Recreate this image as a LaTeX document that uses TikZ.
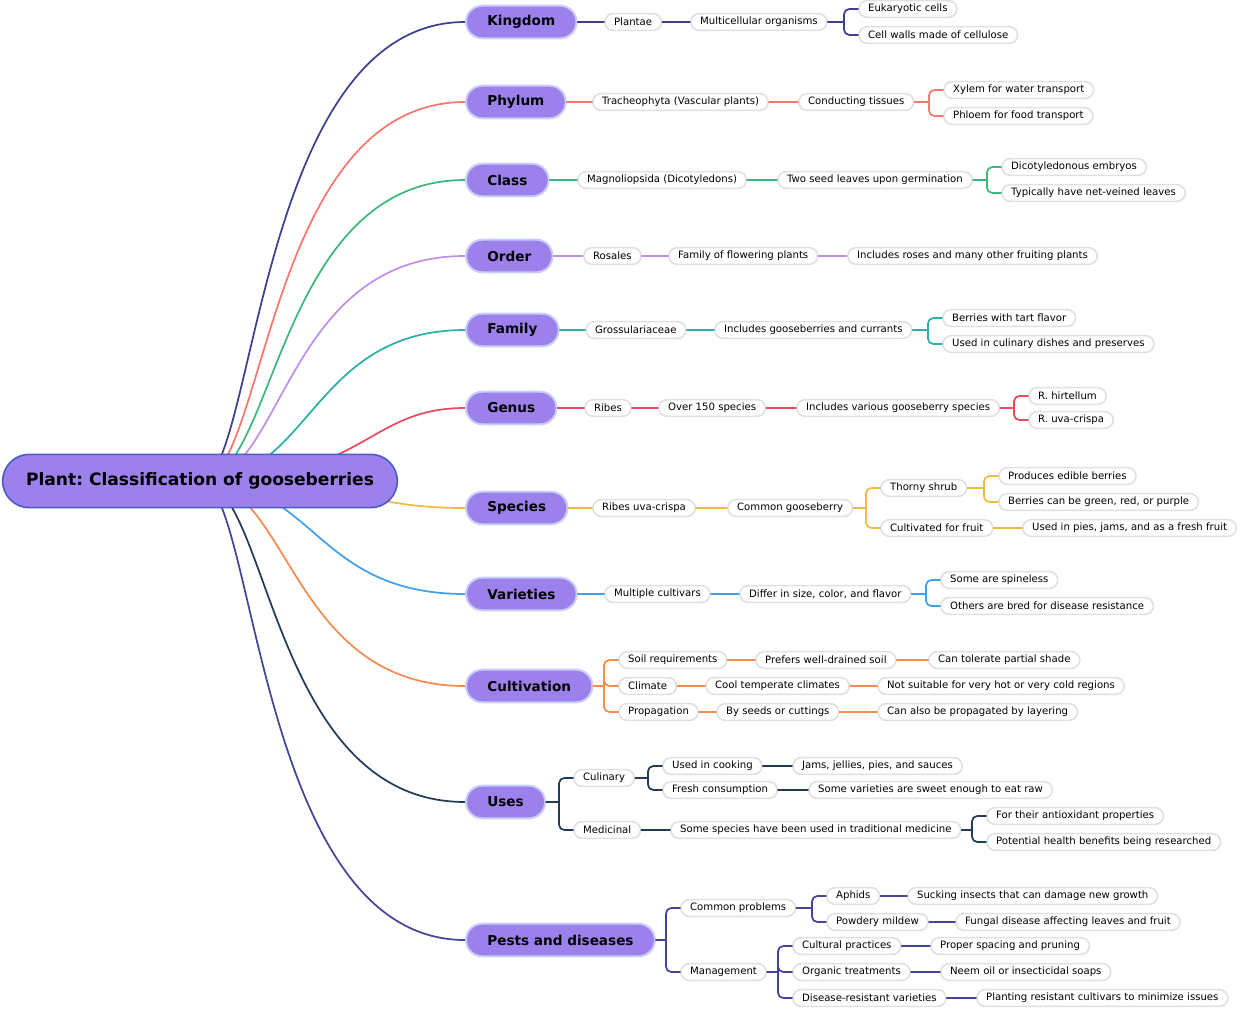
\documentclass[tikz,border=0pt]{standalone}
\usepackage{fontspec}
\setmainfont{DejaVu Sans}
\frenchspacing
\usetikzlibrary{backgrounds}
\definecolor{nodefill}{HTML}{9C80EC}
\definecolor{centraledge}{HTML}{4A5CC8}
\definecolor{topicedge}{HTML}{C8CDF9}
\definecolor{leafedge}{HTML}{E0E0E0}
\definecolor{kcol}{HTML}{3E3F8E}
\definecolor{pcol}{HTML}{F8766D}
\definecolor{ccol}{HTML}{3CB878}
\definecolor{ocol}{HTML}{C08EE8}
\definecolor{fcol}{HTML}{2AB0A8}
\definecolor{gcol}{HTML}{E84A5F}
\definecolor{scol}{HTML}{F3B743}
\definecolor{vcol}{HTML}{42A0E8}
\definecolor{cucol}{HTML}{F68B52}
\definecolor{ucol}{HTML}{233B5B}
\definecolor{pdcol}{HTML}{45449A}
% bracket from a parent to several children
\newcommand{\forkto}[4]{%
  \coordinate (#2-j) at ([xshift=-10.5pt]#3.west |- #2.east);
  \draw[link=#1] (#2.east) -- (#2-j);
  \foreach \c in {#3,#4} \draw[link=#1,rounded corners=4pt] (#2-j) |- (\c.west);
}
\begin{document}
\begin{tikzpicture}[x=0.75pt, y=-0.75pt, line join=round, line cap=round,
  central/.style={draw=centraledge, line width=1.2pt, fill=nodefill, rounded corners=20pt, minimum height=40pt, inner xsep=17.6pt, font=\fontsize{12.8}{15}\selectfont\bfseries},
  topic/.style={anchor=west, draw=topicedge, line width=1.5pt, fill=nodefill, rounded corners=12.25pt, minimum height=24.5pt, inner xsep=16pt, font=\fontsize{10.2}{12}\selectfont\bfseries},
  leaf/.style={anchor=west, draw=leafedge, line width=1.2pt, fill=white, rounded corners=6.25pt, minimum height=12.5pt, inner xsep=7pt, inner ysep=1pt, font=\fontsize{7.6}{9}\selectfont},
  link/.style={draw=#1, line width=1.3pt}]
\useasboundingbox (0,0) rectangle (1240,1008);
\node[central] (plant) at (200,481) {Plant: Classification of gooseberries};
% main topics
\node[topic] (kingdom) at (465,22) {Kingdom};
\node[topic] (phylum) at (465,102) {Phylum};
\node[topic] (class) at (465,180) {Class};
\node[topic] (order) at (465,256) {Order};
\node[topic] (family) at (465,330) {Family};
\node[topic] (genus) at (465,408) {Genus};
\node[topic] (species) at (465,508) {Species};
\node[topic] (varieties) at (465,594) {Varieties};
\node[topic] (cultivation) at (465,686) {Cultivation};
\node[topic] (uses) at (465,802) {Uses};
\node[topic] (pests) at (465,940) {Pests and diseases};
\begin{scope}[on background layer]
\draw[link=kcol] (plant.center) .. controls (256,481) and (256,22) .. (kingdom.west);
\draw[link=pcol] (plant.center) .. controls (266,481) and (266,102) .. (phylum.west);
\draw[link=ccol] (plant.center) .. controls (276,481) and (276,180) .. (class.west);
\draw[link=ocol] (plant.center) .. controls (284,481) and (284,256) .. (order.west);
\draw[link=fcol] (plant.center) .. controls (311,481) and (311,330) .. (family.west);
\draw[link=gcol] (plant.center) .. controls (366,481) and (366,408) .. (genus.west);
\draw[link=scol] (plant.center) .. controls (360,481) and (360,508) .. (species.west);
\draw[link=vcol] (plant.center) .. controls (315,481) and (315,594) .. (varieties.west);
\draw[link=cucol] (plant.center) .. controls (290,481) and (290,686) .. (cultivation.west);
\draw[link=ucol] (plant.center) .. controls (270,481) and (270,802) .. (uses.west);
\draw[link=pdcol] (plant.center) .. controls (256,481) and (256,940) .. (pests.west);
\end{scope}
% Kingdom
\node[leaf] (plantae) at (604,22) {Plantae};
\node[leaf] (multi) at (690,22) {Multicellular organisms};
\node[leaf] (euk) at (858,9) {Eukaryotic cells};
\node[leaf] (cellw) at (858,35) {Cell walls made of cellulose};
\draw[link=kcol] (kingdom.east) -- (plantae.west);
\draw[link=kcol] (plantae.east) -- (multi.west);
\forkto{kcol}{multi}{euk}{cellw}
% Phylum
\node[leaf] (trach) at (592,102) {Tracheophyta (Vascular plants)};
\node[leaf] (cond) at (798,102) {Conducting tissues};
\node[leaf] (xylem) at (943,90) {Xylem for water transport};
\node[leaf] (phloem) at (943,116) {Phloem for food transport};
\draw[link=pcol] (phylum.east) -- (trach.west);
\draw[link=pcol] (trach.east) -- (cond.west);
\forkto{pcol}{cond}{xylem}{phloem}
% Class
\node[leaf] (magno) at (577,180) {Magnoliopsida (Dicotyledons)};
\node[leaf] (twoseed) at (777,180) {Two seed leaves upon germination};
\node[leaf] (dicot) at (1001,167) {Dicotyledonous embryos};
\node[leaf] (netv) at (1001,193) {Typically have net-veined leaves};
\draw[link=ccol] (class.east) -- (magno.west);
\draw[link=ccol] (magno.east) -- (twoseed.west);
\forkto{ccol}{twoseed}{dicot}{netv}
% Order
\node[leaf] (rosales) at (583,256) {Rosales};
\node[leaf] (flowering) at (668,256) {Family of flowering plants};
\node[leaf] (roses) at (847,256) {Includes roses and many other fruiting plants};
\draw[link=ocol] (order.east) -- (rosales.west);
\draw[link=ocol] (rosales.east) -- (flowering.west);
\draw[link=ocol] (flowering.east) -- (roses.west);
% Family
\node[leaf] (gross) at (585,330) {Grossulariaceae};
\node[leaf] (currants) at (714,330) {Includes gooseberries and currants};
\node[leaf] (tart) at (942,318) {Berries with tart flavor};
\node[leaf] (dishes) at (942,344) {Used in culinary dishes and preserves};
\draw[link=fcol] (family.east) -- (gross.west);
\draw[link=fcol] (gross.east) -- (currants.west);
\forkto{fcol}{currants}{tart}{dishes}
% Genus
\node[leaf] (ribes) at (584,408) {Ribes};
\node[leaf] (over) at (658,408) {Over 150 species};
\node[leaf] (various) at (796,408) {Includes various gooseberry species};
\node[leaf] (hirt) at (1028,396) {R. hirtellum};
\node[leaf] (uva) at (1028,420) {R. uva-crispa};
\draw[link=gcol] (genus.east) -- (ribes.west);
\draw[link=gcol] (ribes.east) -- (over.west);
\draw[link=gcol] (over.east) -- (various.west);
\forkto{gcol}{various}{hirt}{uva}
% Species
\node[leaf] (ribesuc) at (592,508) {Ribes uva-crispa};
\node[leaf] (commong) at (727,508) {Common gooseberry};
\node[leaf] (thorny) at (880,488) {Thorny shrub};
\node[leaf] (cultfruit) at (880,528) {Cultivated for fruit};
\node[leaf] (edible) at (998,476) {Produces edible berries};
\node[leaf] (colours) at (998,502) {Berries can be green, red, or purple};
\node[leaf] (pies) at (1022,528) {Used in pies, jams, and as a fresh fruit};
\draw[link=scol] (species.east) -- (ribesuc.west);
\draw[link=scol] (ribesuc.east) -- (commong.west);
\forkto{scol}{commong}{thorny}{cultfruit}
\forkto{scol}{thorny}{edible}{colours}
\draw[link=scol] (cultfruit.east) -- (pies.west);
% Varieties
\node[leaf] (multcult) at (604,594) {Multiple cultivars};
\node[leaf] (differ) at (739,594) {Differ in size, color, and flavor};
\node[leaf] (spineless) at (940,580) {Some are spineless};
\node[leaf] (bred) at (940,606) {Others are bred for disease resistance};
\draw[link=vcol] (varieties.east) -- (multcult.west);
\draw[link=vcol] (multcult.east) -- (differ.west);
\forkto{vcol}{differ}{spineless}{bred}
% Cultivation
\node[leaf] (soil) at (618,660) {Soil requirements};
\node[leaf] (climate) at (618,686) {Climate};
\node[leaf] (propag) at (618,712) {Propagation};
\node[leaf] (drained) at (755,660) {Prefers well-drained soil};
\node[leaf] (shade) at (928,660) {Can tolerate partial shade};
\node[leaf] (cool) at (705,686) {Cool temperate climates};
\node[leaf] (nothot) at (877,686) {Not suitable for very hot or very cold regions};
\node[leaf] (seeds) at (716,712) {By seeds or cuttings};
\node[leaf] (layer) at (877,712) {Can also be propagated by layering};
\forkto{cucol}{cultivation}{soil}{climate,propag}
\draw[link=cucol] (soil.east) -- (drained.west);
\draw[link=cucol] (drained.east) -- (shade.west);
\draw[link=cucol] (climate.east) -- (cool.west);
\draw[link=cucol] (cool.east) -- (nothot.west);
\draw[link=cucol] (propag.east) -- (seeds.west);
\draw[link=cucol] (seeds.east) -- (layer.west);
% Uses
\node[leaf] (culinary) at (573,778) {Culinary};
\node[leaf] (medicinal) at (573,830) {Medicinal};
\node[leaf] (cooking) at (662,766) {Used in cooking};
\node[leaf] (fresh) at (662,790) {Fresh consumption};
\node[leaf] (jams) at (792,766) {Jams, jellies, pies, and sauces};
\node[leaf] (sweet) at (808,790) {Some varieties are sweet enough to eat raw};
\node[leaf] (trad) at (670,830) {Some species have been used in traditional medicine};
\node[leaf] (antiox) at (986,816) {For their antioxidant properties};
\node[leaf] (health) at (986,842) {Potential health benefits being researched};
\forkto{ucol}{uses}{culinary}{medicinal}
\forkto{ucol}{culinary}{cooking}{fresh}
\draw[link=ucol] (cooking.east) -- (jams.west);
\draw[link=ucol] (fresh.east) -- (sweet.west);
\draw[link=ucol] (medicinal.east) -- (trad.west);
\forkto{ucol}{trad}{antiox}{health}
% Pests and diseases
\node[leaf] (commonp) at (680,908) {Common problems};
\node[leaf] (manage) at (680,972) {Management};
\node[leaf] (aphids) at (826,896) {Aphids};
\node[leaf] (mildew) at (826,922) {Powdery mildew};
\node[leaf] (sucking) at (907,896) {Sucking insects that can damage new growth};
\node[leaf] (fungal) at (955,922) {Fungal disease affecting leaves and fruit};
\node[leaf] (cultpr) at (792,946) {Cultural practices};
\node[leaf] (organic) at (792,972) {Organic treatments};
\node[leaf] (resist) at (792,998) {Disease-resistant varieties};
\node[leaf] (spacing) at (930,946) {Proper spacing and pruning};
\node[leaf] (neem) at (940,972) {Neem oil or insecticidal soaps};
\node[leaf] (planting) at (976,998) {Planting resistant cultivars to minimize issues};
\forkto{pdcol}{pests}{commonp}{manage}
\forkto{pdcol}{commonp}{aphids}{mildew}
\draw[link=pdcol] (aphids.east) -- (sucking.west);
\draw[link=pdcol] (mildew.east) -- (fungal.west);
\forkto{pdcol}{manage}{cultpr}{organic,resist}
\draw[link=pdcol] (cultpr.east) -- (spacing.west);
\draw[link=pdcol] (organic.east) -- (neem.west);
\draw[link=pdcol] (resist.east) -- (planting.west);
\end{tikzpicture}
\end{document}
